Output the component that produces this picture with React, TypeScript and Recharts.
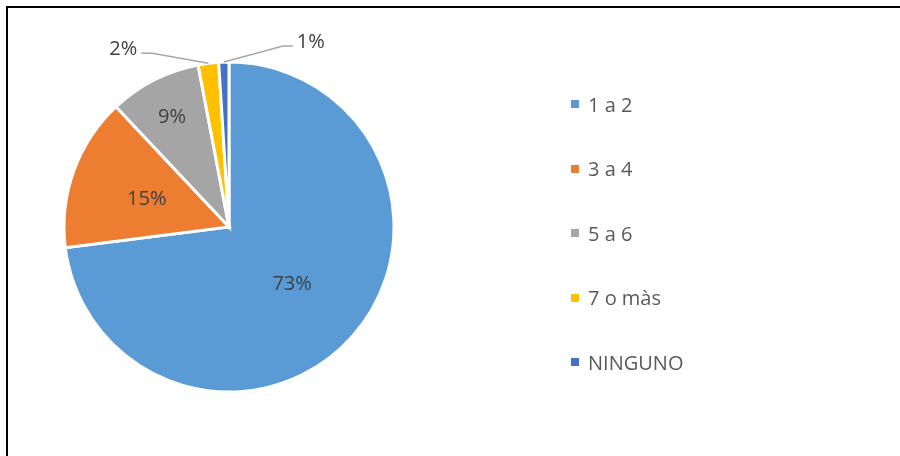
import React from "react";
import { PieChart, Pie, Cell, Legend } from "recharts";

const categories = ["1 a 2", "3 a 4", "5 a 6", "7 o màs", "NINGUNO"];
const shares = [73, 15, 9, 2, 1];
const colors = ["#5B9BD5", "#ED7D31", "#A5A5A5", "#FFC000", "#4472C4"];

const chartData = categories.map((name, i) => ({ name, value: shares[i] }));

const RAD = Math.PI / 180;
const FONT = "'Open Sans', sans-serif";

// label placement, Excel "best fit" style
const insideFactor: Record<string, number> = {
  "1 a 2": 0.51,
  "3 a 4": 0.53,
  "5 a 6": 0.76,
};
const outsideLabel: Record<string, { elbow: [number, number]; end: [number, number]; side: "left" | "right" }> = {
  "7 o màs": { elbow: [-56, -10], end: [-67, -10], side: "left" },
  NINGUNO: { elbow: [59, -16], end: [69, -16], side: "right" },
};

function renderLabel(props: any) {
  const { cx, cy, midAngle, outerRadius, percent, name } = props;
  const text = `${Math.round(percent * 100)}%`;
  const cos = Math.cos(-midAngle * RAD);
  const sin = Math.sin(-midAngle * RAD);

  const out = outsideLabel[name];
  if (out) {
    const ex = cx + outerRadius * cos;
    const ey = cy + outerRadius * sin;
    const bx = ex + out.elbow[0];
    const by = ey + out.elbow[1];
    const tx = ex + out.end[0];
    const ty = ey + out.end[1];
    return (
      <g>
        <polyline
          points={`${ex},${ey} ${bx},${by} ${tx},${ty}`}
          fill="none"
          stroke="#A6A6A6"
          strokeWidth={1.5}
        />
        <text
          x={out.side === "left" ? tx - 4 : tx + 4}
          y={ty - 6}
          textAnchor={out.side === "left" ? "end" : "start"}
          dominantBaseline="central"
          fill="#404040"
          fontSize={20}
          fontFamily={FONT}
        >
          {text}
        </text>
      </g>
    );
  }

  const r = outerRadius * (insideFactor[name] ?? 0.55);
  return (
    <text
      x={cx + r * cos}
      y={cy + r * sin}
      textAnchor="middle"
      dominantBaseline="central"
      fill="#404040"
      fontSize={20}
      fontFamily={FONT}
    >
      {text}
    </text>
  );
}

function LegendList(props: any) {
  const { payload } = props;
  return (
    <div style={{ fontFamily: FONT, fontSize: 20, color: "#595959" }}>
      {(payload || []).map((entry: any) => (
        <div
          key={entry.value}
          style={{ height: 64.5, display: "flex", alignItems: "center" }}
        >
          <span
            style={{
              width: 8,
              height: 8,
              background: entry.color,
              display: "inline-block",
              marginRight: 9,
            }}
          />
          <span>{entry.value}</span>
        </div>
      ))}
    </div>
  );
}

export default function App() {
  return (
    <div style={{ position: "relative", width: 884, height: 440 }}>
      <div
        style={{
          position: "fixed",
          left: 6,
          top: 6,
          width: 1000,
          height: 1000,
          borderLeft: "2px solid #000",
          borderTop: "2px solid #000",
          pointerEvents: "none",
        }}
      />
      <PieChart
        width={884}
        height={440}
        margin={{ top: 0, right: 0, bottom: 0, left: 0 }}
      >
        <Pie
          data={chartData}
          dataKey="value"
          nameKey="name"
          cx={221}
          cy={219}
          outerRadius={165}
          startAngle={90}
          endAngle={-270}
          stroke="#fff"
          strokeWidth={3}
          label={renderLabel}
          labelLine={false}
          isAnimationActive={false}
        >
          {chartData.map((d, i) => (
            <Cell key={d.name} fill={colors[i]} />
          ))}
        </Pie>
        <Legend
          layout="vertical"
          content={<LegendList />}
          wrapperStyle={{ position: "absolute", left: 563, top: 64, width: 200 }}
        />
      </PieChart>
    </div>
  );
}
